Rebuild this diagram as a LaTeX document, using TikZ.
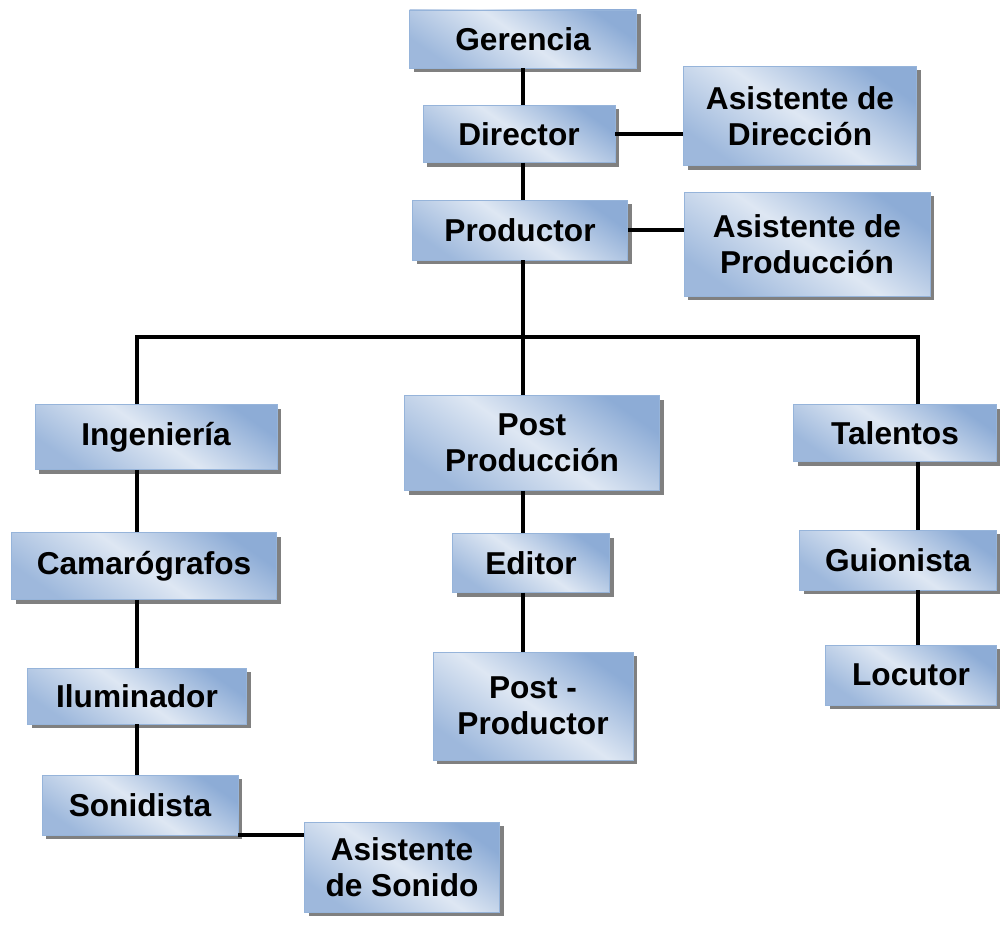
\documentclass[tikz,border=0pt]{standalone}
\usepackage{fontspec}
\setmainfont{Liberation Sans}
\usetikzlibrary{calc}
\usetikzlibrary{shadows}

\definecolor{boxdark}{RGB}{141,172,214}
\definecolor{boxlight}{RGB}{222,231,243}
\definecolor{boxline}{RGB}{150,180,218}

\begin{document}
\begin{tikzpicture} [x=0.2mm, y=-0.2mm,
  puesto/.style 2 args={draw=boxline, line width=0.4pt, inner sep=0pt,
    minimum width=#1*0.2mm, minimum height=#2*0.2mm, align=center,
    font=\fontsize{18}{20.5}\selectfont\bfseries,
    top color=boxdark, bottom color=boxdark!85, middle color=boxlight, shading angle=-35,
    drop shadow={shadow xshift=0.8mm, shadow yshift=-0.8mm, fill=black!50, opacity=1}},
  linea/.style={black, line width=2.2pt}]
\useasboundingbox (0,0) rectangle (1000,925);
% cabeza
\node[puesto={227}{58}] (ger) at (523,39) {Gerencia};
\node[puesto={192}{57}] (dir) at (519,134) {Director};
\node[puesto={233}{99}] (asdir) at (800,116) {Asistente de\\Dirección};
\node[puesto={215}{60}] (pro) at (520,230) {Productor};
\node[puesto={246}{104}] (aspro) at (807,244) {Asistente de\\Producción};
% ramas
\node[puesto={242}{65}] (ing) at (156,437) {Ingeniería};
\node[puesto={255}{95}] (post) at (532,443) {Post\\Producción};
\node[puesto={203}{57}] (tal) at (895,433) {Talentos};
\node[puesto={265}{67}] (cam) at (144,566) {Camarógrafos};
\node[puesto={157}{59}] (edi) at (531,563) {Editor};
\node[puesto={197}{60}] (gui) at (898,560) {Guionista};
\node[puesto={219}{56}] (ilu) at (137,696) {Iluminador};
\node[puesto={200}{108}] (pp) at (533,706) {Post -\\Productor};
\node[puesto={171}{60}] (loc) at (911,675) {Locutor};
\node[puesto={196}{60}] (son) at (140,805) {Sonidista};
\node[puesto={195}{90}] (asson) at (402,867) {Asistente\\de Sonido};
\coordinate (busL) at (137,337);
\coordinate (busM) at (523,337);
\coordinate (busR) at (918,337);
% lineas
\draw[linea] (ger.south -| busM) -- (dir.north -| busM);
\draw[linea] (dir.south -| busM) -- (pro.north -| busM);
\draw[linea] (dir.east) -- (dir.east -| asdir.west);
\draw[linea] (pro.east) -- (pro.east -| aspro.west);
\draw[linea] (pro.south -| busM) -- (busM);
\draw[linea] (ing.north -| busL) -- (busL) -- (busR) -- (tal.north -| busR);
\draw[linea] (busM) -- (post.north -| busM);
\draw[linea] (ing.south -| busL) -- (cam.north -| busL);
\draw[linea] (cam.south -| busL) -- (ilu.north -| busL);
\draw[linea] (ilu.south -| busL) -- (son.north -| busL);
\draw[linea] (son.south east) -- (son.south east -| asson.west);
\draw[linea] (post.south -| busM) -- (edi.north -| busM);
\draw[linea] (edi.south -| busM) -- (pp.north -| busM);
\draw[linea] (tal.south -| busR) -- (gui.north -| busR);
\draw[linea] (gui.south -| busR) -- (loc.north -| busR);
\end{tikzpicture}
\end{document}
